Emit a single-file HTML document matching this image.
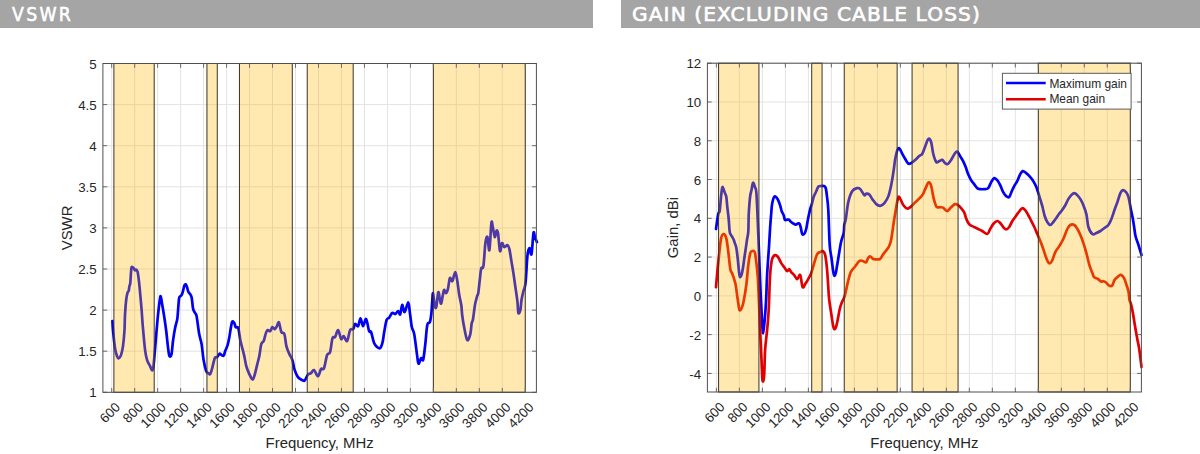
<!DOCTYPE html>
<html><head><meta charset="utf-8"><title>VSWR and Gain</title>
<style>
html,body{margin:0;padding:0;background:#fff;}
body{width:1200px;height:454px;position:relative;overflow:hidden;}
.hdr{position:absolute;top:0;height:28px;background:#a5a5a5;color:#fff;
font-family:"DejaVu Sans","Liberation Sans",sans-serif;font-size:19.2px;line-height:28px;white-space:nowrap;}
.h1{left:0;width:593px;}
.h2{left:621px;width:579px;}
.hdr span{position:absolute;top:0;-webkit-text-stroke:0.6px #fff;}
</style></head><body>
<div class="hdr h1"><span style="left:12px;top:0.6px;letter-spacing:2.6px;transform:scaleX(0.9);transform-origin:0 0">VSWR</span></div>
<div class="hdr h2"><span style="left:11px;top:0.6px;letter-spacing:1.05px;transform:scaleX(1.05);transform-origin:0 0">GAIN (EXCLUDING CABLE LOSS)</span></div>
<svg width="1200" height="454" viewBox="0 0 1200 454" style="position:absolute;left:0;top:0" font-family='"Liberation Sans", Arial, Helvetica, sans-serif' fill="#262626">
<path d="M111.70 63.50V392.30 M134.68 63.50V392.30 M157.65 63.50V392.30 M180.63 63.50V392.30 M203.60 63.50V392.30 M226.58 63.50V392.30 M249.56 63.50V392.30 M272.53 63.50V392.30 M295.51 63.50V392.30 M318.48 63.50V392.30 M341.46 63.50V392.30 M364.44 63.50V392.30 M387.41 63.50V392.30 M410.39 63.50V392.30 M433.36 63.50V392.30 M456.34 63.50V392.30 M479.32 63.50V392.30 M502.29 63.50V392.30 M525.27 63.50V392.30 M102.90 392.30H536.40 M102.90 351.20H536.40 M102.90 310.10H536.40 M102.90 269.00H536.40 M102.90 227.90H536.40 M102.90 186.80H536.40 M102.90 145.70H536.40 M102.90 104.60H536.40 M102.90 63.50H536.40" stroke="#e3e3e3" stroke-width="1" fill="none"/>
<path d="M112.40 321.00 C112.50 322.52 112.57 325.58 113.00 330.10 C113.43 334.62 114.33 343.77 115.00 348.10 C115.67 352.43 116.40 354.37 117.00 356.10 C117.60 357.83 117.93 358.67 118.60 358.50 C119.27 358.33 120.27 357.17 121.00 355.10 C121.73 353.03 122.42 350.28 123.00 346.10 C123.58 341.92 124.17 335.18 124.50 330.00 C124.83 324.82 124.70 320.17 125.00 315.00 C125.30 309.83 125.85 302.78 126.30 299.00 C126.75 295.22 127.30 293.63 127.70 292.30 C128.10 290.97 128.42 292.00 128.70 291.00 C128.98 290.00 129.13 287.63 129.40 286.30 C129.67 284.97 130.03 285.33 130.30 283.00 C130.57 280.67 130.77 274.97 131.00 272.30 C131.23 269.63 131.25 267.67 131.70 267.00 C132.15 266.33 133.15 267.75 133.70 268.30 C134.25 268.85 134.57 270.07 135.00 270.30 C135.43 270.53 135.85 269.37 136.30 269.70 C136.75 270.03 137.25 270.30 137.70 272.30 C138.15 274.30 138.57 277.92 139.00 281.70 C139.43 285.48 139.85 290.12 140.30 295.00 C140.75 299.88 141.30 306.00 141.70 311.00 C142.10 316.00 142.13 318.48 142.70 325.00 C143.27 331.52 144.37 344.25 145.10 350.10 C145.83 355.95 146.27 357.43 147.10 360.10 C147.93 362.77 149.27 364.37 150.10 366.10 C150.93 367.83 151.53 370.50 152.10 370.50 C152.67 370.50 153.00 369.83 153.50 366.10 C154.00 362.37 154.43 355.78 155.10 348.10 C155.77 340.42 156.77 327.68 157.50 320.00 C158.23 312.32 158.97 305.97 159.50 302.00 C160.03 298.03 160.27 295.87 160.70 296.20 C161.13 296.53 161.53 300.70 162.10 304.00 C162.67 307.30 163.43 311.67 164.10 316.00 C164.77 320.33 165.43 324.65 166.10 330.00 C166.77 335.35 167.53 343.75 168.10 348.10 C168.67 352.45 168.93 355.10 169.50 356.10 C170.07 357.10 170.90 356.77 171.50 354.10 C172.10 351.43 172.50 344.45 173.10 340.10 C173.70 335.75 174.43 331.35 175.10 328.00 C175.77 324.65 176.67 322.17 177.10 320.00 C177.53 317.83 177.38 318.50 177.70 315.00 C178.02 311.50 178.57 302.12 179.00 299.00 C179.43 295.88 179.85 296.97 180.30 296.30 C180.75 295.63 181.25 295.88 181.70 295.00 C182.15 294.12 182.57 292.55 183.00 291.00 C183.43 289.45 183.85 286.82 184.30 285.70 C184.75 284.58 185.25 284.08 185.70 284.30 C186.15 284.52 186.57 285.77 187.00 287.00 C187.43 288.23 187.75 290.48 188.30 291.70 C188.85 292.92 189.73 293.30 190.30 294.30 C190.87 295.30 191.25 295.37 191.70 297.70 C192.15 300.03 192.57 305.97 193.00 308.30 C193.43 310.63 193.75 310.58 194.30 311.70 C194.85 312.82 195.82 313.62 196.30 315.00 C196.78 316.38 196.72 316.82 197.20 320.00 C197.68 323.18 198.47 330.08 199.20 334.10 C199.93 338.12 200.87 339.77 201.60 344.10 C202.33 348.43 202.83 355.60 203.60 360.10 C204.37 364.60 205.43 368.93 206.20 371.10 C206.97 373.27 207.53 372.60 208.20 373.10 C208.87 373.60 209.53 374.93 210.20 374.10 C210.87 373.27 211.43 370.77 212.20 368.10 C212.97 365.43 213.97 359.93 214.80 358.10 C215.63 356.27 216.40 357.83 217.20 357.10 C218.00 356.37 218.87 354.03 219.60 353.70 C220.33 353.37 220.93 354.77 221.60 355.10 C222.27 355.43 223.00 356.37 223.60 355.70 C224.20 355.03 224.53 352.87 225.20 351.10 C225.87 349.33 226.93 347.27 227.60 345.10 C228.27 342.93 228.67 340.93 229.20 338.10 C229.73 335.27 230.28 330.85 230.80 328.10 C231.32 325.35 231.72 322.45 232.30 321.60 C232.88 320.75 233.73 322.08 234.30 323.00 C234.87 323.92 235.03 326.25 235.70 327.10 C236.37 327.95 237.53 325.93 238.30 328.10 C239.07 330.27 239.63 336.77 240.30 340.10 C240.97 343.43 241.63 345.43 242.30 348.10 C242.97 350.77 243.63 353.10 244.30 356.10 C244.97 359.10 245.47 363.10 246.30 366.10 C247.13 369.10 248.30 371.92 249.30 374.10 C250.30 376.28 251.47 378.85 252.30 379.20 C253.13 379.55 253.47 378.72 254.30 376.20 C255.13 373.68 256.47 367.45 257.30 364.10 C258.13 360.75 258.63 359.43 259.30 356.10 C259.97 352.77 260.57 346.60 261.30 344.10 C262.03 341.60 262.93 342.93 263.70 341.10 C264.47 339.27 265.23 334.93 265.90 333.10 C266.57 331.27 266.97 330.43 267.70 330.10 C268.43 329.77 269.53 331.60 270.30 331.10 C271.07 330.60 271.53 327.43 272.30 327.10 C273.07 326.77 274.13 329.27 274.90 329.10 C275.67 328.93 276.23 327.22 276.90 326.10 C277.57 324.98 278.15 321.40 278.90 322.40 C279.65 323.40 280.48 330.15 281.40 332.10 C282.32 334.05 283.57 331.77 284.40 334.10 C285.23 336.43 285.57 342.77 286.40 346.10 C287.23 349.43 288.40 351.77 289.40 354.10 C290.40 356.43 291.57 357.60 292.40 360.10 C293.23 362.60 293.57 366.42 294.40 369.10 C295.23 371.78 296.40 374.52 297.40 376.20 C298.40 377.88 299.40 378.47 300.40 379.20 C301.40 379.93 302.63 380.43 303.40 380.60 C304.17 380.77 304.23 381.22 305.00 380.20 C305.77 379.18 307.00 375.68 308.00 374.50 C309.00 373.32 310.00 373.83 311.00 373.10 C312.00 372.37 312.83 369.58 314.00 370.10 C315.17 370.62 316.83 376.37 318.00 376.20 C319.17 376.03 320.00 370.45 321.00 369.10 C322.00 367.75 322.98 370.43 324.00 368.10 C325.02 365.77 326.08 357.77 327.10 355.10 C328.12 352.43 329.20 354.93 330.10 352.10 C331.00 349.27 331.67 340.60 332.50 338.10 C333.33 335.60 334.17 338.43 335.10 337.10 C336.03 335.77 337.10 329.77 338.10 330.10 C339.10 330.43 340.17 338.10 341.10 339.10 C342.03 340.10 342.70 335.77 343.70 336.10 C344.70 336.43 346.03 342.10 347.10 341.10 C348.17 340.10 349.10 332.10 350.10 330.10 C351.10 328.10 352.27 330.12 353.10 329.10 C353.93 328.08 354.27 324.50 355.10 324.00 C355.93 323.50 357.20 327.03 358.10 326.10 C359.00 325.17 359.67 318.40 360.50 318.40 C361.33 318.40 362.17 326.00 363.10 326.10 C364.03 326.20 365.10 318.17 366.10 319.00 C367.10 319.83 368.27 328.92 369.10 331.10 C369.93 333.28 370.27 330.10 371.10 332.10 C371.93 334.10 373.08 340.60 374.10 343.10 C375.12 345.60 376.18 346.27 377.20 347.10 C378.22 347.93 379.30 348.93 380.20 348.10 C381.10 347.27 381.93 344.77 382.60 342.10 C383.27 339.43 383.53 335.78 384.20 332.10 C384.87 328.42 385.77 322.42 386.60 320.00 C387.43 317.58 388.27 318.77 389.20 317.60 C390.13 316.43 391.20 313.60 392.20 313.00 C393.20 312.40 394.20 314.33 395.20 314.00 C396.20 313.67 397.37 310.93 398.20 311.00 C399.03 311.07 399.53 315.40 400.20 314.40 C400.87 313.40 401.47 305.40 402.20 305.00 C402.93 304.60 403.60 312.43 404.60 312.00 C405.60 311.57 407.33 302.40 408.20 302.40 C409.07 302.40 409.20 307.88 409.80 312.00 C410.40 316.12 411.07 323.42 411.80 327.10 C412.53 330.78 413.30 329.27 414.20 334.10 C415.10 338.93 416.47 351.17 417.20 356.10 C417.93 361.03 417.93 363.37 418.60 363.70 C419.27 364.03 420.43 358.77 421.20 358.10 C421.97 357.43 422.52 362.03 423.20 359.70 C423.88 357.37 424.62 349.88 425.30 344.10 C425.98 338.32 426.53 328.68 427.30 325.00 C428.07 321.32 429.23 323.83 429.90 322.00 C430.57 320.17 430.92 317.33 431.30 314.00 C431.68 310.67 431.92 305.47 432.20 302.00 C432.48 298.53 432.58 292.67 433.00 293.20 C433.42 293.73 434.15 302.90 434.70 305.20 C435.25 307.50 435.70 309.17 436.30 307.00 C436.90 304.83 437.68 293.37 438.30 292.20 C438.92 291.03 439.50 298.17 440.00 300.00 C440.50 301.83 440.65 304.83 441.30 303.20 C441.95 301.57 443.13 291.87 443.90 290.20 C444.67 288.53 445.23 293.38 445.90 293.20 C446.57 293.02 447.23 291.62 447.90 289.10 C448.57 286.58 449.17 279.43 449.90 278.10 C450.63 276.77 451.40 282.10 452.30 281.10 C453.20 280.10 454.47 272.10 455.30 272.10 C456.13 272.10 456.63 277.25 457.30 281.10 C457.97 284.95 458.63 291.18 459.30 295.20 C459.97 299.22 460.80 301.73 461.30 305.20 C461.80 308.67 461.80 312.18 462.30 316.00 C462.80 319.82 463.47 324.08 464.30 328.10 C465.13 332.12 466.30 339.10 467.30 340.10 C468.30 341.10 469.57 336.90 470.30 334.10 C471.03 331.30 471.25 325.77 471.70 323.30 C472.15 320.83 472.45 322.40 473.00 319.30 C473.55 316.20 474.33 308.47 475.00 304.70 C475.67 300.93 476.45 298.70 477.00 296.70 C477.55 294.70 477.85 295.37 478.30 292.70 C478.75 290.03 479.22 284.73 479.70 280.70 C480.18 276.67 480.58 270.93 481.20 268.50 C481.82 266.07 482.70 270.33 483.40 266.10 C484.10 261.87 484.73 247.95 485.40 243.10 C486.07 238.25 486.73 235.83 487.40 237.00 C488.07 238.17 488.73 252.43 489.40 250.10 C490.07 247.77 490.83 226.85 491.40 223.00 C491.97 219.15 492.23 224.67 492.80 227.00 C493.37 229.33 494.20 236.33 494.80 237.00 C495.40 237.67 495.87 231.67 496.40 231.00 C496.93 230.33 497.40 229.65 498.00 233.00 C498.60 236.35 499.33 249.42 500.00 251.10 C500.67 252.78 501.27 243.77 502.00 243.10 C502.73 242.43 503.50 246.77 504.40 247.10 C505.30 247.43 506.57 244.77 507.40 245.10 C508.23 245.43 508.73 246.43 509.40 249.10 C510.07 251.77 510.73 257.10 511.40 261.10 C512.07 265.10 512.73 268.77 513.40 273.10 C514.07 277.43 514.73 282.42 515.40 287.10 C516.07 291.78 516.90 296.88 517.40 301.20 C517.90 305.52 517.90 311.53 518.40 313.00 C518.90 314.47 519.88 312.17 520.40 310.00 C520.92 307.83 521.00 303.13 521.50 300.00 C522.00 296.87 522.73 294.02 523.40 291.20 C524.07 288.38 524.82 289.12 525.50 283.10 C526.18 277.08 526.83 260.93 527.50 255.10 C528.17 249.27 528.83 248.27 529.50 248.10 C530.17 247.93 530.83 256.62 531.50 254.10 C532.17 251.58 532.93 235.85 533.50 233.00 C534.07 230.15 534.33 235.48 534.90 237.00 C535.47 238.52 536.57 241.25 536.90 242.10" stroke="#0000f2" stroke-width="2.7" fill="none" stroke-linejoin="round" stroke-linecap="round"/>
<rect x="113.88" y="63.50" width="40.32" height="328.80" fill="rgb(255,185,0)" fill-opacity="0.31"/>
<rect x="113.88" y="63.50" width="40.32" height="328.80" fill="none" stroke="#3a3226" stroke-width="1"/>
<rect x="206.94" y="63.50" width="10.34" height="328.80" fill="rgb(255,185,0)" fill-opacity="0.31"/>
<rect x="206.94" y="63.50" width="10.34" height="328.80" fill="none" stroke="#3a3226" stroke-width="1"/>
<rect x="239.45" y="63.50" width="52.84" height="328.80" fill="rgb(255,185,0)" fill-opacity="0.31"/>
<rect x="239.45" y="63.50" width="52.84" height="328.80" fill="none" stroke="#3a3226" stroke-width="1"/>
<rect x="307.23" y="63.50" width="45.95" height="328.80" fill="rgb(255,185,0)" fill-opacity="0.31"/>
<rect x="307.23" y="63.50" width="45.95" height="328.80" fill="none" stroke="#3a3226" stroke-width="1"/>
<rect x="433.36" y="63.50" width="91.90" height="328.80" fill="rgb(255,185,0)" fill-opacity="0.31"/>
<rect x="433.36" y="63.50" width="91.90" height="328.80" fill="none" stroke="#3a3226" stroke-width="1"/>
<path d="M111.70 392.30V388.00 M111.70 63.50V67.80 M134.68 392.30V388.00 M134.68 63.50V67.80 M157.65 392.30V388.00 M157.65 63.50V67.80 M180.63 392.30V388.00 M180.63 63.50V67.80 M203.60 392.30V388.00 M203.60 63.50V67.80 M226.58 392.30V388.00 M226.58 63.50V67.80 M249.56 392.30V388.00 M249.56 63.50V67.80 M272.53 392.30V388.00 M272.53 63.50V67.80 M295.51 392.30V388.00 M295.51 63.50V67.80 M318.48 392.30V388.00 M318.48 63.50V67.80 M341.46 392.30V388.00 M341.46 63.50V67.80 M364.44 392.30V388.00 M364.44 63.50V67.80 M387.41 392.30V388.00 M387.41 63.50V67.80 M410.39 392.30V388.00 M410.39 63.50V67.80 M433.36 392.30V388.00 M433.36 63.50V67.80 M456.34 392.30V388.00 M456.34 63.50V67.80 M479.32 392.30V388.00 M479.32 63.50V67.80 M502.29 392.30V388.00 M502.29 63.50V67.80 M525.27 392.30V388.00 M525.27 63.50V67.80 M102.90 392.30H107.20 M536.40 392.30H532.10 M102.90 351.20H107.20 M536.40 351.20H532.10 M102.90 310.10H107.20 M536.40 310.10H532.10 M102.90 269.00H107.20 M536.40 269.00H532.10 M102.90 227.90H107.20 M536.40 227.90H532.10 M102.90 186.80H107.20 M536.40 186.80H532.10 M102.90 145.70H107.20 M536.40 145.70H532.10 M102.90 104.60H107.20 M536.40 104.60H532.10 M102.90 63.50H107.20 M536.40 63.50H532.10" stroke="#6a6a6a" stroke-width="1" fill="none"/>
<rect x="102.90" y="63.50" width="433.50" height="328.80" fill="none" stroke="#505050" stroke-width="1"/>
<text x="96.70" y="392.90" text-anchor="end" dominant-baseline="central" font-size="13.3">1</text>
<text x="96.70" y="351.80" text-anchor="end" dominant-baseline="central" font-size="13.3">1.5</text>
<text x="96.70" y="310.70" text-anchor="end" dominant-baseline="central" font-size="13.3">2</text>
<text x="96.70" y="269.60" text-anchor="end" dominant-baseline="central" font-size="13.3">2.5</text>
<text x="96.70" y="228.50" text-anchor="end" dominant-baseline="central" font-size="13.3">3</text>
<text x="96.70" y="187.40" text-anchor="end" dominant-baseline="central" font-size="13.3">3.5</text>
<text x="96.70" y="146.30" text-anchor="end" dominant-baseline="central" font-size="13.3">4</text>
<text x="96.70" y="105.20" text-anchor="end" dominant-baseline="central" font-size="13.3">4.5</text>
<text x="96.70" y="64.10" text-anchor="end" dominant-baseline="central" font-size="13.3">5</text>
<text transform="translate(117.70 404.90) rotate(-45)" text-anchor="end" dominant-baseline="central" font-size="13.3">600</text>
<text transform="translate(140.68 404.90) rotate(-45)" text-anchor="end" dominant-baseline="central" font-size="13.3">800</text>
<text transform="translate(163.65 404.90) rotate(-45)" text-anchor="end" dominant-baseline="central" font-size="13.3">1000</text>
<text transform="translate(186.63 404.90) rotate(-45)" text-anchor="end" dominant-baseline="central" font-size="13.3">1200</text>
<text transform="translate(209.60 404.90) rotate(-45)" text-anchor="end" dominant-baseline="central" font-size="13.3">1400</text>
<text transform="translate(232.58 404.90) rotate(-45)" text-anchor="end" dominant-baseline="central" font-size="13.3">1600</text>
<text transform="translate(255.56 404.90) rotate(-45)" text-anchor="end" dominant-baseline="central" font-size="13.3">1800</text>
<text transform="translate(278.53 404.90) rotate(-45)" text-anchor="end" dominant-baseline="central" font-size="13.3">2000</text>
<text transform="translate(301.51 404.90) rotate(-45)" text-anchor="end" dominant-baseline="central" font-size="13.3">2200</text>
<text transform="translate(324.48 404.90) rotate(-45)" text-anchor="end" dominant-baseline="central" font-size="13.3">2400</text>
<text transform="translate(347.46 404.90) rotate(-45)" text-anchor="end" dominant-baseline="central" font-size="13.3">2600</text>
<text transform="translate(370.44 404.90) rotate(-45)" text-anchor="end" dominant-baseline="central" font-size="13.3">2800</text>
<text transform="translate(393.41 404.90) rotate(-45)" text-anchor="end" dominant-baseline="central" font-size="13.3">3000</text>
<text transform="translate(416.39 404.90) rotate(-45)" text-anchor="end" dominant-baseline="central" font-size="13.3">3200</text>
<text transform="translate(439.36 404.90) rotate(-45)" text-anchor="end" dominant-baseline="central" font-size="13.3">3400</text>
<text transform="translate(462.34 404.90) rotate(-45)" text-anchor="end" dominant-baseline="central" font-size="13.3">3600</text>
<text transform="translate(485.32 404.90) rotate(-45)" text-anchor="end" dominant-baseline="central" font-size="13.3">3800</text>
<text transform="translate(508.29 404.90) rotate(-45)" text-anchor="end" dominant-baseline="central" font-size="13.3">4000</text>
<text transform="translate(531.27 404.90) rotate(-45)" text-anchor="end" dominant-baseline="central" font-size="13.3">4200</text>
<text x="319.65" y="447.8" text-anchor="middle" font-size="14.9">Frequency, MHz</text>
<text transform="translate(71.80 227.90) rotate(-90)" text-anchor="middle" font-size="14.9">VSWR</text>
<path d="M716.40 63.20V392.00 M739.39 63.20V392.00 M762.39 63.20V392.00 M785.38 63.20V392.00 M808.38 63.20V392.00 M831.37 63.20V392.00 M854.36 63.20V392.00 M877.36 63.20V392.00 M900.35 63.20V392.00 M923.35 63.20V392.00 M946.34 63.20V392.00 M969.33 63.20V392.00 M992.33 63.20V392.00 M1015.32 63.20V392.00 M1038.32 63.20V392.00 M1061.31 63.20V392.00 M1084.30 63.20V392.00 M1107.30 63.20V392.00 M1130.29 63.20V392.00 M707.40 373.40H1141.40 M707.40 334.62H1141.40 M707.40 295.85H1141.40 M707.40 257.07H1141.40 M707.40 218.30H1141.40 M707.40 179.52H1141.40 M707.40 140.75H1141.40 M707.40 101.97H1141.40 M707.40 63.20H1141.40" stroke="#e3e3e3" stroke-width="1" fill="none"/>
<path d="M716.00 229.00 C716.23 227.33 716.98 221.67 717.40 219.00 C717.82 216.33 718.12 214.33 718.50 213.00 C718.88 211.67 719.28 213.67 719.70 211.00 C720.12 208.33 720.57 200.92 721.00 197.00 C721.43 193.08 721.88 188.83 722.30 187.50 C722.72 186.17 723.05 188.03 723.50 189.00 C723.95 189.97 724.53 192.02 725.00 193.30 C725.47 194.58 725.93 194.58 726.30 196.70 C726.67 198.82 726.82 202.45 727.20 206.00 C727.58 209.55 728.18 213.72 728.60 218.00 C729.02 222.28 729.30 228.87 729.70 231.70 C730.10 234.53 730.57 234.12 731.00 235.00 C731.43 235.88 731.85 236.22 732.30 237.00 C732.75 237.78 733.25 238.58 733.70 239.70 C734.15 240.82 734.57 242.37 735.00 243.70 C735.43 245.03 735.85 245.27 736.30 247.70 C736.75 250.13 737.25 254.30 737.70 258.30 C738.15 262.30 738.62 268.58 739.00 271.70 C739.38 274.82 739.55 276.57 740.00 277.00 C740.45 277.43 741.20 275.85 741.70 274.30 C742.20 272.75 742.57 270.37 743.00 267.70 C743.43 265.03 743.85 261.42 744.30 258.30 C744.75 255.18 745.25 252.10 745.70 249.00 C746.15 245.90 746.57 242.58 747.00 239.70 C747.43 236.82 748.02 235.82 748.30 231.70 C748.58 227.58 748.50 219.78 748.70 215.00 C748.90 210.22 749.23 206.28 749.50 203.00 C749.77 199.72 749.97 197.47 750.30 195.30 C750.63 193.13 751.05 192.10 751.50 190.00 C751.95 187.90 752.42 183.15 753.00 182.70 C753.58 182.25 754.45 185.75 755.00 187.30 C755.55 188.85 755.88 187.38 756.30 192.00 C756.72 196.62 757.03 204.48 757.50 215.00 C757.97 225.52 758.57 241.73 759.10 255.10 C759.63 268.47 760.20 284.05 760.70 295.20 C761.20 306.35 761.70 315.68 762.10 322.00 C762.50 328.32 762.67 333.43 763.10 333.10 C763.53 332.77 764.20 325.52 764.70 320.00 C765.20 314.48 765.70 307.48 766.10 300.00 C766.50 292.52 766.60 284.25 767.10 275.10 C767.60 265.95 768.60 252.95 769.10 245.10 C769.60 237.25 769.77 233.02 770.10 228.00 C770.43 222.98 770.77 218.98 771.10 215.00 C771.43 211.02 771.57 207.15 772.10 204.10 C772.63 201.05 773.37 197.50 774.30 196.70 C775.23 195.90 776.70 197.75 777.70 199.30 C778.70 200.85 779.63 204.00 780.30 206.00 C780.97 208.00 781.13 209.75 781.70 211.30 C782.27 212.85 783.15 213.85 783.70 215.30 C784.25 216.75 784.45 219.28 785.00 220.00 C785.55 220.72 786.33 219.67 787.00 219.60 C787.67 219.53 788.45 219.32 789.00 219.60 C789.55 219.88 789.63 220.68 790.30 221.30 C790.97 221.92 792.10 222.73 793.00 223.30 C793.90 223.87 794.82 224.70 795.70 224.70 C796.58 224.70 797.63 223.42 798.30 223.30 C798.97 223.18 799.25 223.10 799.70 224.00 C800.15 224.90 800.58 227.03 801.00 228.70 C801.42 230.37 801.67 233.12 802.20 234.00 C802.73 234.88 803.53 234.83 804.20 234.00 C804.87 233.17 805.62 231.22 806.20 229.00 C806.78 226.78 807.02 224.08 807.70 220.70 C808.38 217.32 809.63 211.37 810.30 208.70 C810.97 206.03 811.13 206.70 811.70 204.70 C812.27 202.70 812.93 198.93 813.70 196.70 C814.47 194.47 815.53 192.97 816.30 191.30 C817.07 189.63 817.52 187.58 818.30 186.70 C819.08 185.82 820.10 186.12 821.00 186.00 C821.90 185.88 822.92 185.67 823.70 186.00 C824.48 186.33 825.15 186.22 825.70 188.00 C826.25 189.78 826.57 193.03 827.00 196.70 C827.43 200.37 827.85 201.95 828.30 210.00 C828.75 218.05 829.17 237.00 829.70 245.00 C830.23 253.00 830.95 253.83 831.50 258.00 C832.05 262.17 832.53 267.05 833.00 270.00 C833.47 272.95 833.83 275.20 834.30 275.70 C834.77 276.20 835.35 274.62 835.80 273.00 C836.25 271.38 836.58 268.45 837.00 266.00 C837.42 263.55 837.63 262.25 838.30 258.30 C838.97 254.35 840.10 246.52 841.00 242.30 C841.90 238.08 843.15 235.88 843.70 233.00 C844.25 230.12 843.95 227.33 844.30 225.00 C844.65 222.67 845.13 222.82 845.80 219.00 C846.47 215.18 847.22 206.75 848.30 202.10 C849.38 197.45 850.80 193.43 852.30 191.10 C853.80 188.77 855.97 188.43 857.30 188.10 C858.63 187.77 859.13 187.93 860.30 189.10 C861.47 190.27 863.30 194.33 864.30 195.10 C865.30 195.87 865.47 193.80 866.30 193.70 C867.13 193.60 868.30 193.60 869.30 194.50 C870.30 195.40 871.13 197.50 872.30 199.10 C873.47 200.70 874.97 202.98 876.30 204.10 C877.63 205.22 878.95 205.97 880.30 205.80 C881.65 205.63 883.05 204.72 884.40 203.10 C885.75 201.48 887.23 199.27 888.40 196.10 C889.57 192.93 890.57 188.10 891.40 184.10 C892.23 180.10 892.73 176.43 893.40 172.10 C894.07 167.77 894.67 161.95 895.40 158.10 C896.13 154.25 897.07 150.52 897.80 149.00 C898.53 147.48 899.03 148.17 899.80 149.00 C900.57 149.83 901.50 152.33 902.40 154.00 C903.30 155.67 904.23 157.40 905.20 159.00 C906.17 160.60 907.20 162.92 908.20 163.60 C909.20 164.28 910.03 163.68 911.20 163.10 C912.37 162.52 913.87 161.27 915.20 160.10 C916.53 158.93 918.03 157.12 919.20 156.10 C920.37 155.08 921.23 155.52 922.20 154.00 C923.17 152.48 923.98 149.50 925.00 147.00 C926.02 144.50 927.28 139.83 928.30 139.00 C929.32 138.17 930.27 139.50 931.10 142.00 C931.93 144.50 932.43 150.65 933.30 154.00 C934.17 157.35 935.30 160.92 936.30 162.10 C937.30 163.28 938.30 161.47 939.30 161.10 C940.30 160.73 941.33 159.57 942.30 159.90 C943.27 160.23 944.20 162.40 945.10 163.10 C946.00 163.80 946.70 164.60 947.70 164.10 C948.70 163.60 949.97 161.78 951.10 160.10 C952.23 158.42 953.50 155.42 954.50 154.00 C955.50 152.58 956.17 151.25 957.10 151.60 C958.03 151.95 959.10 154.52 960.10 156.10 C961.10 157.68 962.17 159.27 963.10 161.10 C964.03 162.93 964.87 164.93 965.70 167.10 C966.53 169.27 967.20 171.93 968.10 174.10 C969.00 176.27 970.10 178.43 971.10 180.10 C972.10 181.77 973.08 182.77 974.10 184.10 C975.12 185.43 976.18 187.27 977.20 188.10 C978.22 188.93 979.03 188.93 980.20 189.10 C981.37 189.27 982.87 189.27 984.20 189.10 C985.53 188.93 987.03 189.27 988.20 188.10 C989.37 186.93 990.20 183.77 991.20 182.10 C992.20 180.43 993.20 178.43 994.20 178.10 C995.20 177.77 996.20 178.93 997.20 180.10 C998.20 181.27 999.20 183.10 1000.20 185.10 C1001.20 187.10 1002.20 190.27 1003.20 192.10 C1004.20 193.93 1005.20 195.27 1006.20 196.10 C1007.20 196.93 1008.27 197.93 1009.20 197.10 C1010.13 196.27 1010.97 192.93 1011.80 191.10 C1012.63 189.27 1013.30 187.77 1014.20 186.10 C1015.10 184.43 1016.27 182.93 1017.20 181.10 C1018.13 179.27 1018.90 176.77 1019.80 175.10 C1020.70 173.43 1021.53 171.43 1022.60 171.10 C1023.67 170.77 1024.92 172.10 1026.20 173.10 C1027.48 174.10 1029.12 175.77 1030.30 177.10 C1031.48 178.43 1032.30 179.43 1033.30 181.10 C1034.30 182.77 1035.30 184.60 1036.30 187.10 C1037.30 189.60 1038.30 192.92 1039.30 196.10 C1040.30 199.28 1041.40 202.88 1042.30 206.20 C1043.20 209.52 1043.87 213.37 1044.70 216.00 C1045.53 218.63 1046.37 220.50 1047.30 222.00 C1048.23 223.50 1049.30 225.00 1050.30 225.00 C1051.30 225.00 1052.30 223.17 1053.30 222.00 C1054.30 220.83 1055.30 219.42 1056.30 218.00 C1057.30 216.58 1058.47 214.63 1059.30 213.50 C1060.13 212.37 1060.30 212.58 1061.30 211.20 C1062.30 209.82 1064.13 207.22 1065.30 205.20 C1066.47 203.18 1067.30 200.78 1068.30 199.10 C1069.30 197.42 1070.30 196.10 1071.30 195.10 C1072.30 194.10 1073.30 193.10 1074.30 193.10 C1075.30 193.10 1076.28 194.10 1077.30 195.10 C1078.32 196.10 1079.38 197.42 1080.40 199.10 C1081.42 200.78 1082.40 202.68 1083.40 205.20 C1084.40 207.72 1085.57 210.57 1086.40 214.20 C1087.23 217.83 1087.40 223.70 1088.40 227.00 C1089.40 230.30 1091.07 233.00 1092.40 234.00 C1093.73 235.00 1095.07 233.50 1096.40 233.00 C1097.73 232.50 1099.07 231.83 1100.40 231.00 C1101.73 230.17 1103.07 229.00 1104.40 228.00 C1105.73 227.00 1107.23 226.50 1108.40 225.00 C1109.57 223.50 1110.40 221.47 1111.40 219.00 C1112.40 216.53 1113.40 213.02 1114.40 210.20 C1115.40 207.38 1116.40 204.95 1117.40 202.10 C1118.40 199.25 1119.47 195.10 1120.40 193.10 C1121.33 191.10 1122.07 190.27 1123.00 190.10 C1123.93 189.93 1125.08 190.93 1126.00 192.10 C1126.92 193.27 1127.67 194.12 1128.50 197.10 C1129.33 200.08 1130.33 206.68 1131.00 210.00 C1131.67 213.32 1132.00 214.33 1132.50 217.00 C1133.00 219.67 1133.50 222.83 1134.00 226.00 C1134.50 229.17 1134.75 232.83 1135.50 236.00 C1136.25 239.17 1137.50 241.83 1138.50 245.00 C1139.50 248.17 1141.00 253.33 1141.50 255.00" stroke="#0000f2" stroke-width="2.7" fill="none" stroke-linejoin="round" stroke-linecap="round"/>
<path d="M716.00 287.10 C716.33 283.43 717.17 273.12 718.00 265.10 C718.83 257.08 720.07 244.18 721.00 239.00 C721.93 233.82 722.72 234.12 723.60 234.00 C724.48 233.88 725.52 235.35 726.30 238.30 C727.08 241.25 727.63 246.58 728.30 251.70 C728.97 256.82 729.63 265.33 730.30 269.00 C730.97 272.67 731.63 271.92 732.30 273.70 C732.97 275.48 733.73 277.82 734.30 279.70 C734.87 281.58 735.23 282.42 735.70 285.00 C736.17 287.58 736.70 292.37 737.10 295.20 C737.50 298.03 737.70 299.53 738.10 302.00 C738.50 304.47 738.93 308.92 739.50 310.00 C740.07 311.08 740.83 309.83 741.50 308.50 C742.17 307.17 742.70 305.92 743.50 302.00 C744.30 298.08 745.50 291.17 746.30 285.00 C747.10 278.83 747.63 270.33 748.30 265.00 C748.97 259.67 749.68 255.30 750.30 253.00 C750.92 250.70 751.43 251.53 752.00 251.20 C752.57 250.87 753.20 250.70 753.70 251.00 C754.20 251.30 754.57 251.12 755.00 253.00 C755.43 254.88 755.85 258.52 756.30 262.30 C756.75 266.08 757.30 270.22 757.70 275.70 C758.10 281.18 758.30 286.13 758.70 295.20 C759.10 304.27 759.63 319.28 760.10 330.10 C760.57 340.92 761.10 351.75 761.50 360.10 C761.90 368.45 762.07 377.52 762.50 380.20 C762.93 382.88 763.67 381.22 764.10 376.20 C764.53 371.18 764.60 357.78 765.10 350.10 C765.60 342.42 766.50 336.78 767.10 330.10 C767.70 323.42 768.20 319.17 768.70 310.00 C769.20 300.83 769.53 283.58 770.10 275.10 C770.67 266.62 771.27 262.43 772.10 259.10 C772.93 255.77 774.10 255.43 775.10 255.10 C776.10 254.77 777.08 255.77 778.10 257.10 C779.12 258.43 780.18 261.43 781.20 263.10 C782.22 264.77 783.20 265.77 784.20 267.10 C785.20 268.43 786.37 270.77 787.20 271.10 C788.03 271.43 788.53 268.93 789.20 269.10 C789.87 269.27 790.37 271.10 791.20 272.10 C792.03 273.10 793.20 273.93 794.20 275.10 C795.20 276.27 796.20 279.10 797.20 279.10 C798.20 279.10 799.30 273.77 800.20 275.10 C801.10 276.43 801.77 285.60 802.60 287.10 C803.43 288.60 804.27 285.43 805.20 284.10 C806.13 282.77 807.20 280.93 808.20 279.10 C809.20 277.27 810.20 275.77 811.20 273.10 C812.20 270.43 813.20 266.27 814.20 263.10 C815.20 259.93 816.20 255.93 817.20 254.10 C818.20 252.27 819.27 252.60 820.20 252.10 C821.13 251.60 821.97 250.60 822.80 251.10 C823.63 251.60 824.47 251.77 825.20 255.10 C825.93 258.43 826.60 264.42 827.20 271.10 C827.80 277.78 828.42 290.05 828.80 295.20 C829.18 300.35 829.08 298.87 829.50 302.00 C829.92 305.13 830.60 309.65 831.30 314.00 C832.00 318.35 832.87 326.08 833.70 328.10 C834.53 330.12 835.30 329.23 836.30 326.10 C837.30 322.97 838.80 313.20 839.70 309.30 C840.60 305.40 840.93 304.70 841.70 302.70 C842.47 300.70 843.58 299.33 844.30 297.30 C845.02 295.27 845.38 293.10 846.00 290.50 C846.62 287.90 847.22 284.73 848.00 281.70 C848.78 278.67 849.58 274.75 850.70 272.30 C851.82 269.85 853.27 268.88 854.70 267.00 C856.13 265.12 857.97 262.00 859.30 261.00 C860.63 260.00 861.58 260.78 862.70 261.00 C863.82 261.22 865.12 262.75 866.00 262.30 C866.88 261.85 867.33 259.30 868.00 258.30 C868.67 257.30 869.12 256.18 870.00 256.30 C870.88 256.42 872.30 258.50 873.30 259.00 C874.30 259.50 874.88 259.30 876.00 259.30 C877.12 259.30 878.88 259.72 880.00 259.00 C881.12 258.28 881.92 256.12 882.70 255.00 C883.48 253.88 883.93 253.30 884.70 252.30 C885.47 251.30 886.53 250.10 887.30 249.00 C888.07 247.90 888.63 247.37 889.30 245.70 C889.97 244.03 890.55 242.95 891.30 239.00 C892.05 235.05 892.95 227.47 893.80 222.00 C894.65 216.53 895.63 210.35 896.40 206.20 C897.17 202.05 897.73 198.28 898.40 197.10 C899.07 195.92 899.57 197.75 900.40 199.10 C901.23 200.45 902.23 203.62 903.40 205.20 C904.57 206.78 906.07 208.43 907.40 208.60 C908.73 208.77 910.07 207.28 911.40 206.20 C912.73 205.12 913.93 203.53 915.40 202.10 C916.87 200.67 918.93 198.93 920.20 197.60 C921.47 196.27 922.13 195.60 923.00 194.10 C923.87 192.60 924.48 190.53 925.40 188.60 C926.32 186.67 927.55 183.00 928.50 182.50 C929.45 182.00 930.25 183.00 931.10 185.60 C931.95 188.20 932.70 194.58 933.60 198.10 C934.50 201.62 935.42 205.18 936.50 206.70 C937.58 208.22 939.00 207.03 940.10 207.20 C941.20 207.37 941.93 207.03 943.10 207.70 C944.27 208.37 945.77 211.28 947.10 211.20 C948.43 211.12 949.77 208.38 951.10 207.20 C952.43 206.02 953.93 204.43 955.10 204.10 C956.27 203.77 957.10 204.52 958.10 205.20 C959.10 205.88 960.10 207.03 961.10 208.20 C962.10 209.37 963.27 210.53 964.10 212.20 C964.93 213.87 965.45 216.48 966.10 218.20 C966.75 219.92 967.33 221.37 968.00 222.50 C968.67 223.63 969.08 224.25 970.10 225.00 C971.12 225.75 972.75 226.33 974.10 227.00 C975.45 227.67 976.85 228.33 978.20 229.00 C979.55 229.67 980.70 230.17 982.20 231.00 C983.70 231.83 985.87 234.33 987.20 234.00 C988.53 233.67 989.20 230.67 990.20 229.00 C991.20 227.33 992.03 225.33 993.20 224.00 C994.37 222.67 996.03 221.17 997.20 221.00 C998.37 220.83 999.20 222.00 1000.20 223.00 C1001.20 224.00 1002.20 225.93 1003.20 227.00 C1004.20 228.07 1005.20 229.40 1006.20 229.40 C1007.20 229.40 1008.27 228.23 1009.20 227.00 C1010.13 225.77 1010.80 223.67 1011.80 222.00 C1012.80 220.33 1013.97 218.75 1015.20 217.00 C1016.43 215.25 1018.03 212.97 1019.20 211.50 C1020.37 210.03 1021.20 208.42 1022.20 208.20 C1023.20 207.98 1024.18 209.03 1025.20 210.20 C1026.22 211.37 1027.45 213.73 1028.30 215.20 C1029.15 216.67 1029.30 217.03 1030.30 219.00 C1031.30 220.97 1033.13 224.50 1034.30 227.00 C1035.47 229.50 1036.30 231.65 1037.30 234.00 C1038.30 236.35 1039.30 238.58 1040.30 241.10 C1041.30 243.62 1042.30 246.27 1043.30 249.10 C1044.30 251.93 1045.37 255.77 1046.30 258.10 C1047.23 260.43 1047.97 262.60 1048.90 263.10 C1049.83 263.60 1050.83 262.93 1051.90 261.10 C1052.97 259.27 1054.07 254.60 1055.30 252.10 C1056.53 249.60 1057.97 248.28 1059.30 246.10 C1060.63 243.92 1061.97 241.85 1063.30 239.00 C1064.63 236.15 1066.13 231.33 1067.30 229.00 C1068.47 226.67 1069.13 225.67 1070.30 225.00 C1071.47 224.33 1073.12 224.33 1074.30 225.00 C1075.48 225.67 1076.38 227.33 1077.40 229.00 C1078.42 230.67 1079.40 232.65 1080.40 235.00 C1081.40 237.35 1082.40 240.08 1083.40 243.10 C1084.40 246.12 1085.40 249.43 1086.40 253.10 C1087.40 256.77 1088.40 261.77 1089.40 265.10 C1090.40 268.43 1091.63 271.12 1092.40 273.10 C1093.17 275.08 1093.07 276.02 1094.00 277.00 C1094.93 277.98 1096.83 278.25 1098.00 279.00 C1099.17 279.75 1100.08 281.13 1101.00 281.50 C1101.92 281.87 1102.67 281.03 1103.50 281.20 C1104.33 281.37 1105.08 281.78 1106.00 282.50 C1106.92 283.22 1108.17 284.88 1109.00 285.50 C1109.83 286.12 1110.42 286.28 1111.00 286.20 C1111.58 286.12 1111.92 286.03 1112.50 285.00 C1113.08 283.97 1113.75 281.25 1114.50 280.00 C1115.25 278.75 1116.08 278.33 1117.00 277.50 C1117.92 276.67 1119.08 275.25 1120.00 275.00 C1120.92 274.75 1121.75 275.33 1122.50 276.00 C1123.25 276.67 1123.83 277.50 1124.50 279.00 C1125.17 280.50 1125.83 282.92 1126.50 285.00 C1127.17 287.08 1128.00 289.00 1128.50 291.50 C1129.00 294.00 1129.08 297.92 1129.50 300.00 C1129.92 302.08 1130.42 301.75 1131.00 304.00 C1131.58 306.25 1132.33 309.83 1133.00 313.50 C1133.67 317.17 1134.28 321.75 1135.00 326.00 C1135.72 330.25 1136.58 335.08 1137.30 339.00 C1138.02 342.92 1138.60 344.83 1139.30 349.50 C1140.00 354.17 1141.13 364.08 1141.50 367.00" stroke="#e00000" stroke-width="2.7" fill="none" stroke-linejoin="round" stroke-linecap="round"/>
<rect x="718.58" y="63.20" width="40.35" height="328.80" fill="rgb(255,185,0)" fill-opacity="0.31"/>
<rect x="718.58" y="63.20" width="40.35" height="328.80" fill="none" stroke="#3a3226" stroke-width="1"/>
<rect x="811.71" y="63.20" width="10.35" height="328.80" fill="rgb(255,185,0)" fill-opacity="0.31"/>
<rect x="811.71" y="63.20" width="10.35" height="328.80" fill="none" stroke="#3a3226" stroke-width="1"/>
<rect x="844.25" y="63.20" width="52.89" height="328.80" fill="rgb(255,185,0)" fill-opacity="0.31"/>
<rect x="844.25" y="63.20" width="52.89" height="328.80" fill="none" stroke="#3a3226" stroke-width="1"/>
<rect x="912.08" y="63.20" width="45.99" height="328.80" fill="rgb(255,185,0)" fill-opacity="0.31"/>
<rect x="912.08" y="63.20" width="45.99" height="328.80" fill="none" stroke="#3a3226" stroke-width="1"/>
<rect x="1038.32" y="63.20" width="91.98" height="328.80" fill="rgb(255,185,0)" fill-opacity="0.31"/>
<rect x="1038.32" y="63.20" width="91.98" height="328.80" fill="none" stroke="#3a3226" stroke-width="1"/>
<path d="M716.40 392.00V387.70 M716.40 63.20V67.50 M739.39 392.00V387.70 M739.39 63.20V67.50 M762.39 392.00V387.70 M762.39 63.20V67.50 M785.38 392.00V387.70 M785.38 63.20V67.50 M808.38 392.00V387.70 M808.38 63.20V67.50 M831.37 392.00V387.70 M831.37 63.20V67.50 M854.36 392.00V387.70 M854.36 63.20V67.50 M877.36 392.00V387.70 M877.36 63.20V67.50 M900.35 392.00V387.70 M900.35 63.20V67.50 M923.35 392.00V387.70 M923.35 63.20V67.50 M946.34 392.00V387.70 M946.34 63.20V67.50 M969.33 392.00V387.70 M969.33 63.20V67.50 M992.33 392.00V387.70 M992.33 63.20V67.50 M1015.32 392.00V387.70 M1015.32 63.20V67.50 M1038.32 392.00V387.70 M1038.32 63.20V67.50 M1061.31 392.00V387.70 M1061.31 63.20V67.50 M1084.30 392.00V387.70 M1084.30 63.20V67.50 M1107.30 392.00V387.70 M1107.30 63.20V67.50 M1130.29 392.00V387.70 M1130.29 63.20V67.50 M707.40 373.40H711.70 M1141.40 373.40H1137.10 M707.40 334.62H711.70 M1141.40 334.62H1137.10 M707.40 295.85H711.70 M1141.40 295.85H1137.10 M707.40 257.07H711.70 M1141.40 257.07H1137.10 M707.40 218.30H711.70 M1141.40 218.30H1137.10 M707.40 179.52H711.70 M1141.40 179.52H1137.10 M707.40 140.75H711.70 M1141.40 140.75H1137.10 M707.40 101.97H711.70 M1141.40 101.97H1137.10 M707.40 63.20H711.70 M1141.40 63.20H1137.10" stroke="#6a6a6a" stroke-width="1" fill="none"/>
<rect x="707.40" y="63.20" width="434.00" height="328.80" fill="none" stroke="#505050" stroke-width="1"/>
<text x="701.20" y="374.00" text-anchor="end" dominant-baseline="central" font-size="13.3">-4</text>
<text x="701.20" y="335.23" text-anchor="end" dominant-baseline="central" font-size="13.3">-2</text>
<text x="701.20" y="296.45" text-anchor="end" dominant-baseline="central" font-size="13.3">0</text>
<text x="701.20" y="257.68" text-anchor="end" dominant-baseline="central" font-size="13.3">2</text>
<text x="701.20" y="218.90" text-anchor="end" dominant-baseline="central" font-size="13.3">4</text>
<text x="701.20" y="180.12" text-anchor="end" dominant-baseline="central" font-size="13.3">6</text>
<text x="701.20" y="141.35" text-anchor="end" dominant-baseline="central" font-size="13.3">8</text>
<text x="701.20" y="102.57" text-anchor="end" dominant-baseline="central" font-size="13.3">10</text>
<text x="701.20" y="63.80" text-anchor="end" dominant-baseline="central" font-size="13.3">12</text>
<text transform="translate(722.40 404.60) rotate(-45)" text-anchor="end" dominant-baseline="central" font-size="13.3">600</text>
<text transform="translate(745.39 404.60) rotate(-45)" text-anchor="end" dominant-baseline="central" font-size="13.3">800</text>
<text transform="translate(768.39 404.60) rotate(-45)" text-anchor="end" dominant-baseline="central" font-size="13.3">1000</text>
<text transform="translate(791.38 404.60) rotate(-45)" text-anchor="end" dominant-baseline="central" font-size="13.3">1200</text>
<text transform="translate(814.38 404.60) rotate(-45)" text-anchor="end" dominant-baseline="central" font-size="13.3">1400</text>
<text transform="translate(837.37 404.60) rotate(-45)" text-anchor="end" dominant-baseline="central" font-size="13.3">1600</text>
<text transform="translate(860.36 404.60) rotate(-45)" text-anchor="end" dominant-baseline="central" font-size="13.3">1800</text>
<text transform="translate(883.36 404.60) rotate(-45)" text-anchor="end" dominant-baseline="central" font-size="13.3">2000</text>
<text transform="translate(906.35 404.60) rotate(-45)" text-anchor="end" dominant-baseline="central" font-size="13.3">2200</text>
<text transform="translate(929.35 404.60) rotate(-45)" text-anchor="end" dominant-baseline="central" font-size="13.3">2400</text>
<text transform="translate(952.34 404.60) rotate(-45)" text-anchor="end" dominant-baseline="central" font-size="13.3">2600</text>
<text transform="translate(975.33 404.60) rotate(-45)" text-anchor="end" dominant-baseline="central" font-size="13.3">2800</text>
<text transform="translate(998.33 404.60) rotate(-45)" text-anchor="end" dominant-baseline="central" font-size="13.3">3000</text>
<text transform="translate(1021.32 404.60) rotate(-45)" text-anchor="end" dominant-baseline="central" font-size="13.3">3200</text>
<text transform="translate(1044.32 404.60) rotate(-45)" text-anchor="end" dominant-baseline="central" font-size="13.3">3400</text>
<text transform="translate(1067.31 404.60) rotate(-45)" text-anchor="end" dominant-baseline="central" font-size="13.3">3600</text>
<text transform="translate(1090.30 404.60) rotate(-45)" text-anchor="end" dominant-baseline="central" font-size="13.3">3800</text>
<text transform="translate(1113.30 404.60) rotate(-45)" text-anchor="end" dominant-baseline="central" font-size="13.3">4000</text>
<text transform="translate(1136.29 404.60) rotate(-45)" text-anchor="end" dominant-baseline="central" font-size="13.3">4200</text>
<text x="924.40" y="447.8" text-anchor="middle" font-size="14.9">Frequency, MHz</text>
<text transform="translate(678.20 227.60) rotate(-90)" text-anchor="middle" font-size="14.9">Gain, dBi</text>
<rect x="1002.40" y="73.30" width="128.70" height="35.80" fill="#fff" stroke="#5c5c5c" stroke-width="1"/>
<path d="M1006 82.9H1045.7" stroke="#0000ff" stroke-width="2.5"/>
<path d="M1006 99.3H1045.7" stroke="#e00000" stroke-width="2.5"/>
<text x="1049.4" y="87.7" font-size="11.95">Maximum gain</text>
<text x="1049.4" y="103.3" font-size="11.95">Mean gain</text>
</svg>
</body></html>
